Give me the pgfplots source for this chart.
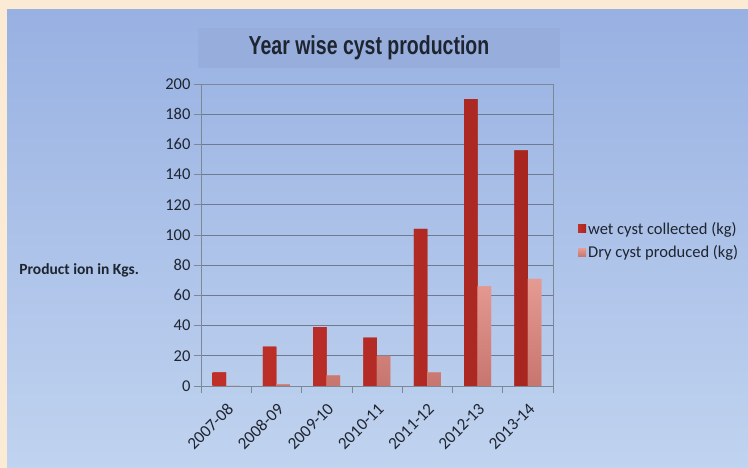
\documentclass[border=0pt]{standalone}
\usepackage{pgfplots}
\pgfplotsset{compat=1.18}
\usepackage{fontspec}
\setmainfont{Carlito}
\newfontfamily\headfont{Liberation Sans}

\definecolor{cream}{HTML}{FCEBD4}
\definecolor{bgtop}{HTML}{98B1E2}
\definecolor{bgbot}{HTML}{C0D3EF}
\definecolor{titlebg}{HTML}{97AEDC}
\definecolor{gridc}{HTML}{6F7A92}
\definecolor{axisc}{HTML}{7D8796}
\definecolor{textc}{HTML}{1E2430}
\definecolor{wetc}{HTML}{C0302A}
\definecolor{wetd}{HTML}{A82620}
\definecolor{dryc}{HTML}{E59A92}
\definecolor{dryd}{HTML}{C7766F}

% production per season (kg)
\pgfplotstableread{
x wet dry
0 9   0
1 26  1
2 39  7
3 32  20
4 104 9
5 190 66
6 156 71
}\cysttable

\begin{document}
\begin{tikzpicture}[x=1pt,y=1pt]
\useasboundingbox (0,0) rectangle (748,468);
\fill[cream] (0,0) rectangle (748,468);
\shade[top color=bgtop, bottom color=bgbot] (7,0) rectangle (748,458);
\fill[titlebg] (198,400) rectangle (560,440);
\node[anchor=base, text=textc] at (369,413)
  {\headfont\bfseries\fontsize{26}{26}\selectfont\scalebox{0.75}[1]{Year wise cyst production}};

\begin{axis}[
  at={(201pt,82pt)}, anchor=south west,
  scale only axis, width=352pt, height=302pt,
  xmin=-0.5, xmax=6.5, ymin=0, ymax=200,
  axis line style={draw=axisc, line width=0.8pt},
  /pgf/number format/assume math mode=true,
  ytick={0,20,...,200},
  ymajorgrids, grid style={draw=gridc, line width=0.8pt},
  ytick align=outside, ytick pos=left,
  major y tick style={draw=axisc, line width=0.6pt},
  y tick label style={font=\fontsize{16.5}{16.5}\selectfont, text=textc},
  major tick length=7pt,
  xtick={0,...,6},
  xticklabels={2007-08,2008-09,2009-10,2010-11,2011-12,2012-13,2013-14},
  major x tick style={draw=none},
  x tick label style={rotate=45, anchor=north east, font=\fontsize{17}{17}\selectfont,
     text=textc, yshift=-3pt, xshift=-3pt},
  extra x ticks={-0.5,0.5,1.5,2.5,3.5,4.5,5.5,6.5},
  extra x tick labels={},
  extra x tick style={grid=none, xtick align=outside, xtick pos=bottom,
     major x tick style={draw=axisc, line width=0.6pt}, major tick length=7pt},
  every axis y label/.style={at={(axis description cs:-0.166,0.384)}, anchor=east,
     font=\bfseries\fontsize{15.5}{15.5}\selectfont, text=textc},
  ylabel={Product ion in Kgs.},
  ybar=0pt, bar width=13.5pt,
  legend style={at={(axis description cs:1.071,0.55)}, anchor=north west,
     draw=none, fill=none, font=\fontsize{16.5}{16.5}\selectfont, text=textc,
     row sep=6pt, inner sep=0pt},
  legend cell align=left,
  legend image code/.code={\fill[#1] (0pt,-4pt) rectangle (8pt,4pt);},
]
\addplot[draw=none, fill=wetc, left color=wetc, right color=wetd] table[x=x, y=wet] {\cysttable};
\addlegendentry{wet cyst collected (kg)}
\addplot[draw=none, fill=dryc, top color=dryc, bottom color=dryd] table[x=x, y=dry] {\cysttable};
\addlegendentry{Dry cyst produced (kg)}
\end{axis}
\end{tikzpicture}
\end{document}
